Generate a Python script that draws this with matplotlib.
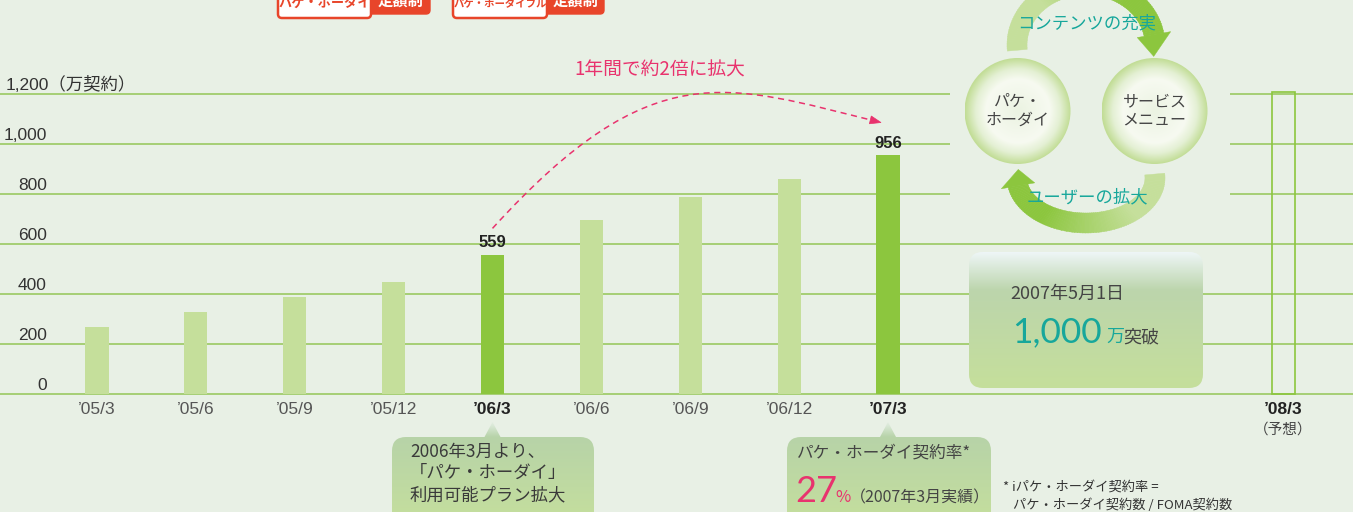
import numpy as np
import matplotlib
matplotlib.use("Agg")
import matplotlib.pyplot as plt
from matplotlib import font_manager
from matplotlib.patches import Rectangle, Circle, Polygon, FancyBboxPatch, PathPatch
from matplotlib.path import Path
from matplotlib.colors import LinearSegmentedColormap, to_rgb
import matplotlib.transforms as mtransforms

# ---------------- data ----------------
periods = ["’05/3", "’05/6", "’05/9", "’05/12", "’06/3", "’06/6", "’06/9", "’06/12",
           "’07/3", "’07/6", "’07/9", "’07/12", "’08/3"]
subscribers = [268, 328, 388, 448, 559, 696, 788, 860, 956]     # 万契約 (actual)
forecast_index = 12
forecast_value = 1210                                           # '08/3 (予想)
highlight = ["’06/3", "’07/3"]
labelled_values = {"’06/3": "559", "’07/3": "956"}
yticks = [0, 200, 400, 600, 800, 1000, 1200]
ytick_labels = ["0", "200", "400", "600", "800", "1,000", "1,200（万契約）"]

# ---------------- style ----------------
names = {f.name for f in font_manager.fontManager.ttflist}
NARROW = "Liberation Sans Narrow" if "Liberation Sans Narrow" in names else "Liberation Sans"
JP = "Noto Sans CJK JP"
NUMF = [NARROW, JP]
BG = "#E8F0E5"
GRID = "#A6CF74"
LIGHT = "#C5DF9B"
DARK = "#8CC63E"
TEAL = "#17A79B"
PINK = "#E8336E"
TXT = "#3A3A3A"

W, H = 1353, 512
fig = plt.figure(figsize=(W / 100, H / 100), dpi=100, facecolor=BG)

# data axes (mapped so that category spacing ~99px, 0.25px per unit)
ax = fig.add_axes([0, 0, 1, 1])
ax.set_xlim(-0.98104, 12.7029)
ax.set_ylim(-469.7, 1576.9)
ax.axis("off")

for v in yticks:
    ax.axhline(v, color=GRID, lw=1.4, zorder=1)

x = np.arange(len(subscribers))
colors = [DARK if periods[i] in highlight else LIGHT for i in x]
ax.bar(x, subscribers, width=0.233, color=colors, zorder=2)
ax.bar([forecast_index], [forecast_value], width=0.233, fill=False,
       edgecolor=DARK, lw=1.2, zorder=2)

for i, v in enumerate(subscribers):
    if periods[i] in labelled_values:
        ax.text(i, v + 48, labelled_values[periods[i]], ha="center", va="center",
                fontsize=12, fontweight="bold", family=NUMF, color="#222222", zorder=3)

shown = list(range(len(subscribers))) + [forecast_index]
for i in shown:
    bold = periods[i] in highlight or i == forecast_index
    ax.text(i, -58, periods[i], ha="center", va="center", fontsize=12.5,
            family=NUMF, fontweight="bold" if bold else "normal",
            color="#222222" if bold else "#555555", zorder=3)
ax.text(forecast_index, -142, "（予想）", ha="center", va="center", fontsize=10.5,
        family=[JP], color="#444444")

trans = mtransforms.blended_transform_factory(ax.transAxes, ax.transData)
for v, lab in zip(yticks, ytick_labels):
    if v == 1200:
        ax.text(6 / W, v + 18, lab, ha="left", va="baseline", fontsize=12.5,
                family=NUMF, color="#333333", transform=trans)
    else:
        ax.text(47 / W, v + 18, lab, ha="right", va="baseline", fontsize=12.5,
                family=NUMF, color="#333333", transform=trans)

# ---------------- overlay (pixel coords) ----------------
ov = fig.add_axes([0, 0, 1, 1], zorder=2)
ov.set_xlim(0, W)
ov.set_ylim(H, 0)
ov.axis("off")
ov.patch.set_alpha(0)


def px(pt):
    return ov.transData.inverted().transform(ax.transData.transform(pt))


def grad(patch, x0, x1, y0, y1, stops, z=3):
    patch.set_facecolor("none")
    patch.set_edgecolor("none")
    ov.add_patch(patch)
    cmap = LinearSegmentedColormap.from_list("g", stops)
    arr = np.linspace(0, 1, 256).reshape(256, 1)
    im = ov.imshow(arr, cmap=cmap, extent=(x0, x1, y1, y0), aspect="auto",
                   interpolation="bilinear", zorder=z)
    im.set_clip_path(patch)


# hide grid behind cycle diagram
ov.add_patch(Rectangle((950, -5), 280, 220, facecolor=BG, edgecolor="none", zorder=1))

# cycle circles with radial gradient
rcmap = LinearSegmentedColormap.from_list(
    "r", [(0, "#EBF3E2"), (0.6, "#F7FAF1"), (0.8, "#E4F0D4"), (1.0, "#C2DD96")])
for cx, lines in [(1017.5, "パケ・\nホーダイ"), (1154.5, "サービス\nメニュー")]:
    cy, r = 111, 53
    c = Circle((cx, cy), r, facecolor="none", edgecolor="none")
    ov.add_patch(c)
    g = np.linspace(-1, 1, 200)
    X, Y = np.meshgrid(g, g)
    R = np.clip(np.sqrt(X ** 2 + Y ** 2), 0, 1)
    im = ov.imshow(R, cmap=rcmap, extent=(cx - r, cx + r, cy + r, cy - r),
                   aspect="auto", interpolation="bilinear", zorder=3)
    im.set_clip_path(c)
    ov.text(cx, cy, lines, ha="center", va="center", fontsize=11.5, family=[JP],
            color="#444444", linespacing=1.15, zorder=4)


def arc_arrow(cx, cy, a, b, t0, t1, t2, hw=10, head=17, c0=LIGHT, c1=DARK):
    def pt(t, da=0.0):
        t = np.radians(t)
        return (cx + (a + da) * np.sin(t), cy - (b + da) * np.cos(t))
    n = 90
    ts = np.linspace(t0, t1, n + 1)
    ca, cb = np.array(to_rgb(c0)), np.array(to_rgb(c1))
    for k in range(n):
        f = np.clip((k / n - 0.3) / 0.45, 0, 1)
        col = ca + (cb - ca) * f
        poly = [pt(ts[k], -hw), pt(ts[k], hw), pt(ts[k + 1] + 0.3, hw), pt(ts[k + 1] + 0.3, -hw)]
        ov.add_patch(Polygon(poly, closed=True, facecolor=col, edgecolor=col,
                             lw=0.3, zorder=3))
    ov.add_patch(Polygon([pt(t1, -head), pt(t1, head), pt(t2)], closed=True,
                         facecolor=c1, edgecolor=c1, lw=0.3, zorder=3))


arc_arrow(1086, 45, 69, 60, -95, 80, 101)
arc_arrow(1086, 178, 69, 45, 85, 260, 281)
ov.text(1087, 23, "コンテンツの充実", ha="center", va="center", fontsize=12.5,
        family=[JP], color=TEAL, zorder=5)
ov.text(1087, 197, "ユーザーの拡大", ha="center", va="center", fontsize=12.5,
        family=[JP], color=TEAL, zorder=5)

# 1,000万突破 box
box = FancyBboxPatch((969, 252), 234, 136, boxstyle="round,pad=0,rounding_size=14")
grad(box, 969, 1203, 252, 388, [(0, "#EEF6F7"), (0.28, "#BCD5AC"), (1, "#C5DF9B")])
ov.text(1010, 294, "2007年5月1日", ha="left", va="center", fontsize=13,
        family=[JP], color="#444444", zorder=5)
ov.text(1012, 342, "1,000", ha="left", va="baseline", fontsize=25.5, family=["Lato", JP],
        fontweight="normal", color=TEAL, zorder=5)
ov.text(1106, 342, "万", ha="left", va="baseline", fontsize=13, family=[JP],
        color=TEAL, zorder=5)
ov.text(1123, 342, "突破", ha="left", va="baseline", fontsize=13, family=[JP],
        color="#444444", zorder=5)


def callout(x0, x1, tipx, top=437, tipy=422, bottom=530, r=14):
    verts = [(x0 + r, top), (tipx - 8, top), (tipx, tipy), (tipx + 8, top), (x1 - r, top),
             (x1, top), (x1, top + r), (x1, bottom), (x0, bottom), (x0, top + r),
             (x0, top), (x0 + r, top)]
    codes = [Path.MOVETO, Path.LINETO, Path.LINETO, Path.LINETO, Path.LINETO,
             Path.CURVE3, Path.CURVE3, Path.LINETO, Path.LINETO, Path.LINETO,
             Path.CURVE3, Path.CURVE3]
    p = PathPatch(Path(verts, codes))
    grad(p, x0, x1, tipy, bottom,
         [(0, "#E3EEE3"), ((top - tipy) / (bottom - tipy), "#B7D3A8"), (1, "#C6E09C")])


tip1 = px((4, 0))[0]
tip2 = px((8, 0))[0]
callout(392, 594, tip1)
callout(787, 991, tip2)
for yy, s in [(452, "2006年3月より、"), (473, "「パケ・ホーダイ」"), (495, "利用可能プラン拡大")]:
    ov.text(410, yy, s, ha="left", va="center", fontsize=12.5, family=[JP],
            color=TXT, zorder=5)
ov.text(797, 453, "パケ・ホーダイ契約率*", ha="left", va="center", fontsize=12,
        family=[JP], color="#444444", zorder=5)
ov.text(795, 502, "27", ha="left", va="baseline", fontsize=26, family=["Lato", JP],
        fontweight="normal", color=PINK, zorder=5)
ov.text(835, 502, "%", ha="left", va="baseline", fontsize=12, family=[JP],
        color=PINK, zorder=5)
ov.text(850, 502, "（2007年3月実績）", ha="left", va="baseline", fontsize=11.5,
        family=[JP], color="#444444", zorder=5)

# footnote
ov.text(1003, 487, "* iパケ・ホーダイ契約率 =", ha="left", va="center", fontsize=9.5,
        family=[JP], color="#333333", zorder=5)
ov.text(1013, 505, "パケ・ホーダイ契約数 / FOMA契約数", ha="left", va="center",
        fontsize=9.5, family=[JP], color="#333333", zorder=5)

# dashed growth arrow between the highlighted bars
p0 = px((4, subscribers[4] + 105))
p3 = px((8 - 0.11, subscribers[8] + 135))
c1 = (p0[0] + 160, p0[1] - 176)
c2 = (p3[0] - 150, p3[1] - 37)
path = Path([p0, c1, c2, p3], [Path.MOVETO, Path.CURVE4, Path.CURVE4, Path.CURVE4])
ov.add_patch(PathPatch(path, facecolor="none", edgecolor=PINK, lw=1.1,
                       linestyle=(0, (4, 3)), zorder=4))
d = np.array(p3) - np.array(c2)
d = d / np.hypot(*d)
nrm = np.array([-d[1], d[0]])
tipp = np.array(p3) + d * 4
base = tipp - d * 11
ov.add_patch(Polygon([tipp, base + nrm * 4, base - nrm * 4], closed=True,
                     facecolor=PINK, edgecolor=PINK, lw=0.5, zorder=4))
ov.text(660, 70, "1年間で約2倍に拡大", ha="center", va="center", fontsize=13.5,
        family=[JP], color=PINK, zorder=5)

# top badges (cut by the figure edge, as in the source)
RED = "#E8452A"
for wx0, wx1, rx1, label, fs in [(278, 371, 430, "パケ・ホーダイ", 9.5),
                                 (453, 547, 604, "パケ・ホーダイフル", 7.5)]:
    ov.add_patch(FancyBboxPatch((wx1 - 5, -20), rx1 - wx1 + 5, 34,
                                boxstyle="round,pad=0,rounding_size=4",
                                facecolor=RED, edgecolor=RED, lw=1, zorder=3))
    ov.add_patch(FancyBboxPatch((wx0, -20), wx1 - wx0, 38,
                                boxstyle="round,pad=0,rounding_size=4",
                                facecolor="white", edgecolor=RED, lw=1.8, zorder=4))
    ov.text((wx0 + wx1) / 2, 3, label, ha="center", va="center", fontsize=fs,
            fontweight="bold", family=[JP], color=RED, zorder=5)
    ov.text((wx1 + rx1) / 2, 1, "定額制", ha="center", va="center", fontsize=11,
            fontweight="bold", family=[JP], color="white", zorder=5)

ov.set_xlim(0, W)
ov.set_ylim(H, 0)
fig.savefig("out.png", dpi=100, facecolor=BG)
